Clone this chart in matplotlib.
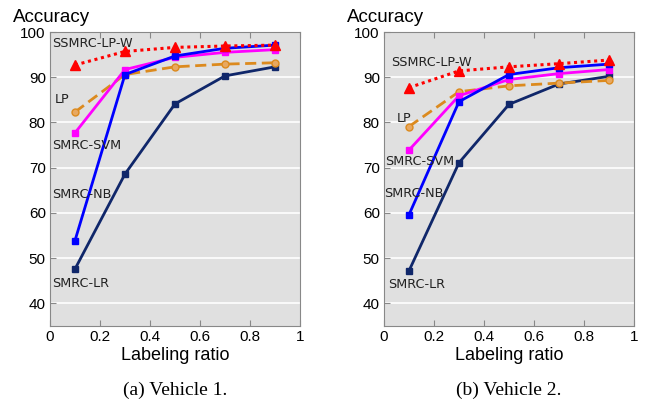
import numpy as np
import matplotlib
matplotlib.use("Agg")
from matplotlib import pyplot as plt

# labeling ratios
ratio = [0.1, 0.3, 0.5, 0.7, 0.9]

# Vehicle 1
v1_lpw = [92.7, 95.7, 96.6, 96.9, 97.1]
v1_nb = [53.9, 90.6, 94.7, 96.4, 97.1]
v1_svm = [77.7, 91.7, 94.4, 95.5, 96.1]
v1_lp = [82.3, 90.6, 92.3, 92.9, 93.2]
v1_lr = [47.6, 68.6, 84.1, 90.3, 92.3]

# Vehicle 2
v2_lpw = [87.7, 91.4, 92.3, 93.0, 93.8]
v2_nb = [59.6, 84.6, 90.6, 92.1, 92.9]
v2_svm = [73.9, 85.9, 89.5, 90.8, 91.7]
v2_lp = [79.1, 86.8, 88.1, 88.7, 89.3]
v2_lr = [47.2, 71.1, 84.0, 88.5, 90.2]

names = ['SSMRC-LP-W', 'LP', 'SMRC-SVM', 'SMRC-NB', 'SMRC-LR']
# label anchor (x, y) in data units for each panel
v1_label_pos = [(0.01, 97.4), (0.02, 85.0), (0.01, 74.8), (0.01, 64.0), (0.01, 44.5)]
v2_label_pos = [(0.03, 93.2), (0.05, 80.8), (0.005, 71.4), (0.0, 64.3), (0.016, 44.2)]

captions = ['(a) Vehicle 1.', '(b) Vehicle 2.']

fig = plt.figure(figsize=(6.46, 4.03), dpi=100)

panels = [
    ([v1_lpw, v1_nb, v1_svm, v1_lp, v1_lr], v1_label_pos, 50),
    ([v2_lpw, v2_nb, v2_svm, v2_lp, v2_lr], v2_label_pos, 384),
]

for k, (series, label_pos, left_px) in enumerate(panels):
    ax = fig.add_axes([left_px / 646, 77 / 403, 250 / 646, 294 / 403])
    ax.set_facecolor('#e0e0e0')
    lpw, nb, svm, lp, lr = series

    ax.plot(ratio, lr, color='#10276a', lw=2, marker='s', ms=5, zorder=3)
    ax.plot(ratio, lp, color='#dc8a1e', lw=2, ls=(0, (4, 2)), marker='o', ms=5,
            mfc='#e8a860', zorder=4)
    ax.plot(ratio, svm, color='#ff00ff', lw=2, marker='s', ms=5, zorder=5)
    ax.plot(ratio, nb, color='#0000ff', lw=2, marker='s', ms=5, zorder=6)
    ax.plot(ratio, lpw, color='#ff0000', lw=2.2, ls=(0, (1, 1.2)), marker='^', ms=7, zorder=7)

    for name, (tx, ty) in zip(names, label_pos):
        ax.text(tx, ty, name, fontsize=9.2, family='DejaVu Sans', color='#222222',
                va='center', ha='left', zorder=8)

    ax.set_xlim(0, 1)
    ax.set_ylim(35, 100)
    ax.set_xticks([0, 0.2, 0.4, 0.6, 0.8, 1])
    ax.set_xticklabels(['0', '0.2', '0.4', '0.6', '0.8', '1'])
    ax.set_yticks([40, 50, 60, 70, 80, 90, 100])
    ax.yaxis.grid(True, color='white', lw=1.2)
    ax.set_axisbelow(True)
    ax.tick_params(direction='in', top=True, labelsize=11, length=4, color='#888888',
                   labelfontfamily='Liberation Sans', pad=3)
    for s in ax.spines.values():
        s.set_color('#888888')

    ax.set_xlabel('Labeling ratio', fontsize=13, family='Liberation Sans', labelpad=2)
    ax.text(-0.15, 1.02, 'Accuracy', transform=ax.transAxes, fontsize=13.5,
            family='Liberation Sans', ha='left', va='bottom')
    ax.text(0.5, -0.218, captions[k], transform=ax.transAxes, fontsize=14,
            family='Liberation Serif', ha='center', va='center')

fig.savefig('out.png', dpi=100)
